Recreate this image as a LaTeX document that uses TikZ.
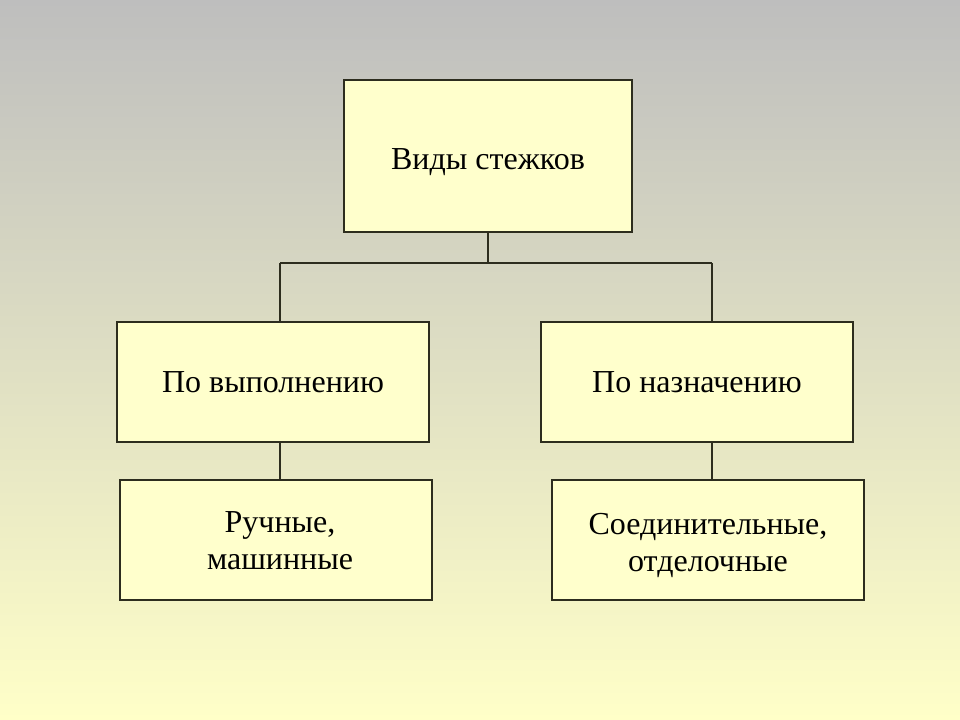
\documentclass[tikz,border=0pt]{standalone}
\usepackage{fontspec}
\setmainfont{Liberation Serif}

\definecolor{bgTop}{RGB}{190,190,190}
\definecolor{bgMid}{RGB}{221,221,197}
\definecolor{bgBot}{RGB}{255,255,200}
\definecolor{boxFill}{RGB}{255,255,204}
\definecolor{boxLine}{RGB}{45,45,30}

% text nudged inside its box: {dx}{dy}{lines}
\newcommand{\nudge}[3]{\raisebox{#2}[\height][\depth]{\hspace*{#1}\hspace*{#1}%
  \begin{tabular}{@{}c@{}}#3\end{tabular}}}

\tikzset{
  kindbox/.style={draw=boxLine, fill=boxFill, line width=1pt, align=center,
    font=\fontsize{24}{28}\selectfont, inner sep=0pt,
    minimum width=234pt, minimum height=90pt},
  tieline/.style={draw=boxLine, line width=0.9pt}
}

\begin{document}
\begin{tikzpicture}[x=0.75pt, y=-0.75pt]
%% ── Background ───────────────────────────────────────────────────────────
\shade[top color=bgTop, middle color=bgMid, bottom color=bgBot]
    (0,0) rectangle (960,720);
\useasboundingbox (0,0) rectangle (960,720);
%% ── Boxes ────────────────────────────────────────────────────────────────
\node[kindbox, minimum width=216pt, minimum height=114pt]
    (kinds) at (488,156) {\nudge{0pt}{-4.5pt}{Виды стежков}};
\node[kindbox] (byexec) at (273,382) {\nudge{0pt}{-2pt}{По выполнению}};
\node[kindbox] (bypurp) at (697,382) {\nudge{0pt}{-2pt}{По назначению}};
\node[kindbox] (manual) at (276,540) {\nudge{3pt}{-2.5pt}{Ручные,\\машинные}};
\node[kindbox] (joining) at (708,540)
    {\nudge{0pt}{-4pt}{Соединительные,\\отделочные}};
%% ── Connectors ───────────────────────────────────────────────────────────
\coordinate (busL) at (280,263);
\coordinate (busR) at (712,263);
\draw[tieline] (kinds.south) -- (kinds.south |- busL);
\draw[tieline] (busL) -- (busR);
\draw[tieline] (busL) -- (busL |- byexec.north);
\draw[tieline] (busR) -- (busR |- bypurp.north);
\draw[tieline] (busL |- byexec.south) -- (busL |- manual.north);
\draw[tieline] (busR |- bypurp.south) -- (busR |- joining.north);
\end{tikzpicture}
\end{document}
